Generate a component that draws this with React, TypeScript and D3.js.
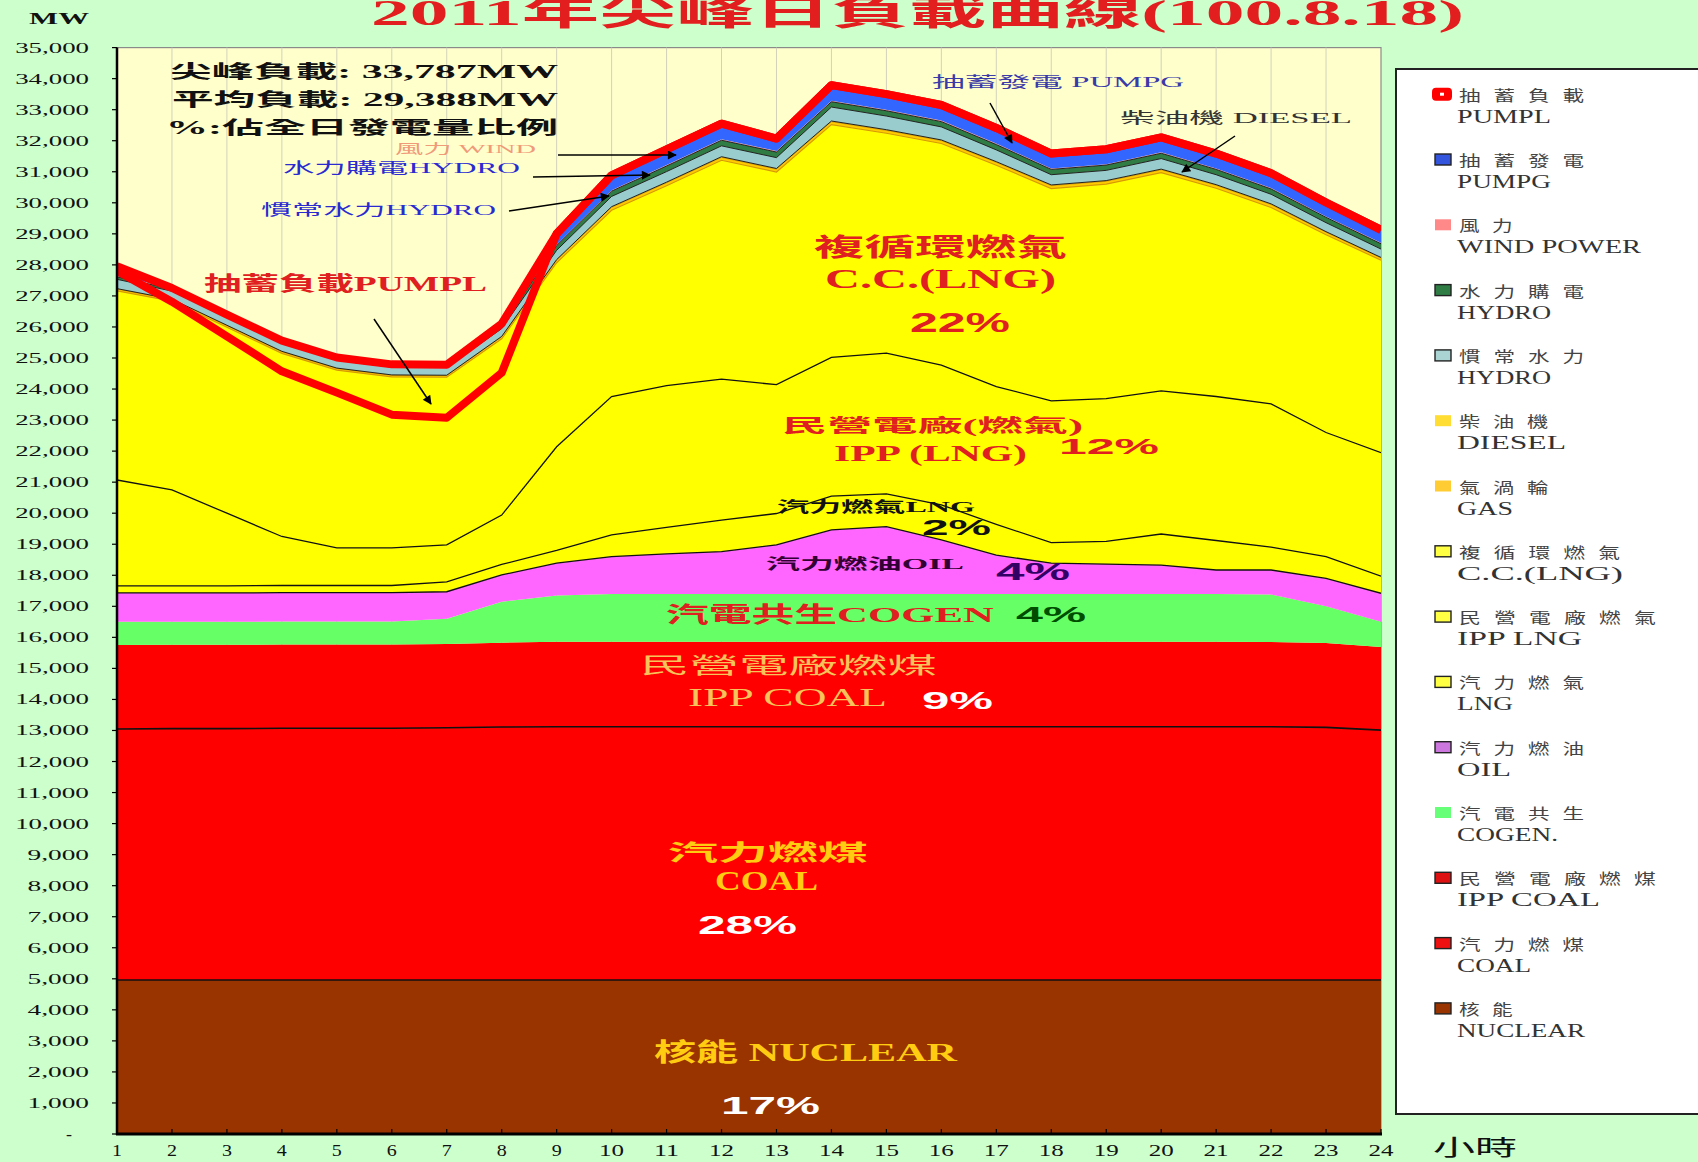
import React from 'react';
import * as d3 from 'd3';

// ---------- data (MW, hour 1..24) ----------
const HOURS = [1, 2, 3, 4, 5, 6, 7, 8, 9, 10, 11, 12, 13, 14, 15, 16, 17, 18, 19, 20, 21, 22, 23, 24];
const NUCLEAR = [4960, 4960, 4960, 4960, 4960, 4960, 4960, 4960, 4960, 4960, 4960, 4960, 4960, 4960, 4960, 4960, 4960, 4960, 4960, 4960, 4960, 4960, 4960, 4960];
const COAL = [8090, 8100, 8100, 8110, 8110, 8110, 8130, 8150, 8160, 8160, 8160, 8160, 8160, 8160, 8160, 8160, 8160, 8160, 8160, 8160, 8160, 8160, 8140, 8050];
const IPP_COAL = [2700, 2700, 2700, 2700, 2700, 2700, 2700, 2720, 2740, 2740, 2740, 2740, 2740, 2740, 2740, 2740, 2740, 2740, 2740, 2740, 2740, 2730, 2720, 2680];
const COGEN = [750, 740, 740, 740, 740, 740, 810, 1320, 1490, 1540, 1540, 1540, 1540, 1540, 1540, 1540, 1540, 1540, 1540, 1540, 1540, 1530, 1180, 810];
const OIL = [930, 930, 930, 930, 930, 930, 870, 860, 1040, 1200, 1290, 1360, 1580, 2060, 2170, 1740, 1250, 990, 960, 930, 770, 790, 900, 920];
const LNG = [230, 230, 230, 230, 230, 230, 320, 340, 410, 700, 850, 1020, 1010, 1090, 1050, 1130, 990, 660, 730, 1000, 950, 740, 700, 550];
const IPP_LNG = [3410, 3090, 2340, 1580, 1210, 1210, 1190, 1590, 3340, 4460, 4570, 4540, 4150, 4470, 4540, 4500, 4440, 4570, 4600, 4610, 4640, 4610, 4000, 3980];
const CC = [6090, 6080, 5990, 5900, 5730, 5510, 5400, 5680, 5930, 6000, 6440, 7050, 6850, 7500, 7080, 7140, 7130, 6840, 6910, 7030, 6710, 6330, 6370, 6200];
const GAS = [60, 50, 50, 50, 50, 50, 50, 60, 80, 90, 90, 90, 90, 90, 90, 90, 90, 90, 90, 90, 90, 90, 80, 70];
const DIESEL = [15, 15, 15, 15, 15, 15, 15, 15, 20, 25, 25, 25, 25, 25, 25, 25, 25, 25, 25, 25, 25, 25, 20, 20];
const HYDRO_C = [300, 260, 250, 250, 250, 250, 250, 250, 300, 330, 340, 350, 350, 450, 440, 420, 380, 330, 330, 340, 320, 310, 290, 270];
const HYDRO_P = [80, 60, 60, 60, 60, 60, 60, 80, 150, 170, 180, 180, 180, 170, 170, 170, 170, 170, 170, 170, 170, 170, 170, 170];
const WIND = [40, 40, 35, 35, 30, 30, 30, 30, 30, 30, 35, 35, 35, 35, 35, 35, 35, 30, 30, 30, 30, 30, 30, 30];
const PUMPG = [300, 0, 0, 0, 0, 0, 0, 50, 350, 480, 500, 500, 400, 500, 500, 500, 500, 480, 480, 480, 480, 480, 450, 420];
const PUMP_LOAD = [150, 440, 700, 990, 1130, 1620, 1710, 1580, 0, 0, 0, 0, 0, 0, 0, 0, 0, 0, 0, 0, 0, 0, 0, 0];

const Y_MAX = 35000;
const Y_STEP = 1000;

// ---------- styling ----------
const SERIF = "'Liberation Serif','Times New Roman','Noto Sans CJK TC',serif";
const CJK = "'Noto Sans CJK TC','Liberation Serif',serif";
const SANS = "'Liberation Sans',Arial,sans-serif";

const SERIES = [
  { key: 'nuclear', values: NUCLEAR, fill: '#993300', line: '#111', lw: 1.6 },
  { key: 'coal', values: COAL, fill: '#ff0000', line: '#111', lw: 1.6 },
  { key: 'ippCoal', values: IPP_COAL, fill: '#ff0000', line: null, lw: 0 },
  { key: 'cogen', values: COGEN, fill: '#66ff66', line: null, lw: 0 },
  { key: 'oil', values: OIL, fill: '#ff66ff', line: '#111', lw: 1.3 },
  { key: 'lng', values: LNG, fill: '#ffff00', line: '#111', lw: 1.3 },
  { key: 'ippLng', values: IPP_LNG, fill: '#ffff00', line: '#111', lw: 1.3 },
  { key: 'cc', values: CC, fill: '#ffff00', line: '#d89a00', lw: 1.2 },
  { key: 'gas', values: GAS, fill: '#ffcc00', line: '#e0a000', lw: 1 },
  { key: 'diesel', values: DIESEL, fill: '#ffcc00', line: '#222', lw: 1 },
  { key: 'hydroC', values: HYDRO_C, fill: '#99cccc', line: '#222', lw: 1 },
  { key: 'hydroP', values: HYDRO_P, fill: '#2f7d45', line: '#222', lw: 1 },
  { key: 'wind', values: WIND, fill: '#ff9999', line: null, lw: 0 },
  { key: 'pumpG', values: PUMPG, fill: '#3366ff', line: null, lw: 0 },
];

const LEGEND = [
  { zh: '抽蓄負載', en: 'PUMPL', color: '#ff0000', enW: 94, pump: true },
  { zh: '抽蓄發電', en: 'PUMPG', color: '#3355dd', enW: 94 },
  { zh: '風力', en: 'WIND POWER', color: '#ff8888', enW: 184, noBorder: true },
  { zh: '水力購電', en: 'HYDRO', color: '#2f7d45', enW: 94 },
  { zh: '慣常水力', en: 'HYDRO', color: '#aad4d4', enW: 94 },
  { zh: '柴油機', en: 'DIESEL', color: '#ffdd33', enW: 109, noBorder: true },
  { zh: '氣渦輪', en: 'GAS', color: '#ffcc33', enW: 56, noBorder: true },
  { zh: '複循環燃氣', en: 'C.C.(LNG)', color: '#ffff44', enW: 166 },
  { zh: '民營電廠燃氣', en: 'IPP  LNG', color: '#ffff44', enW: 125 },
  { zh: '汽力燃氣', en: 'LNG', color: '#ffff44', enW: 56 },
  { zh: '汽力燃油', en: 'OIL', color: '#cc77dd', enW: 54 },
  { zh: '汽電共生', en: 'COGEN.', color: '#66ff77', enW: 101, noBorder: true },
  { zh: '民營電廠燃煤', en: 'IPP  COAL', color: '#dd1111', enW: 143 },
  { zh: '汽力燃煤', en: 'COAL', color: '#ee1111', enW: 74 },
  { zh: '核能', en: 'NUCLEAR', color: '#993300', enW: 128 },
];

const NOTES = [
  { t: '尖峰負載:  33,787MW', x: 170, w: 388, y: 72, size: 18, fill: '#111', weight: 'bold' },
  { t: '平均負載:  29,388MW', x: 172, w: 386, y: 100, size: 18, fill: '#111', weight: 'bold' },
  { t: '%:佔全日發電量比例', x: 166, w: 392, y: 128, size: 18, fill: '#111', weight: 'bold' },
  { t: '風力 WIND', x: 395, w: 141, y: 148, size: 13, fill: '#f09a7a' },
  { t: '水力購電HYDRO', x: 283, w: 237, y: 168, size: 15, fill: '#2a2ad0' },
  { t: '慣常水力HYDRO', x: 261, w: 235, y: 210, size: 15, fill: '#2a2ad0' },
  { t: '抽蓄負載PUMPL', x: 204, w: 283, y: 284, size: 20, fill: '#e02020', weight: 'bold' },
  { t: '抽蓄發電  PUMPG', x: 932, w: 252, y: 82, size: 15, fill: '#3a3aa8' },
  { t: '柴油機  DIESEL', x: 1120, w: 232, y: 118, size: 15, fill: '#333' },
  { t: '複循環燃氣', x: 814, w: 253, y: 247, size: 25, fill: '#e02020', weight: 'bold' },
  { t: 'C.C.(LNG)', x: 825, w: 231, y: 278, size: 28, fill: '#e02020', weight: 'bold' },
  { t: '22%', x: 910, w: 100, y: 322, size: 28, fill: '#e02020', weight: 'bold', family: SANS },
  { t: '民營電廠(燃氣)', x: 782, w: 301, y: 426, size: 18, fill: '#e02020', weight: 'bold' },
  { t: 'IPP (LNG)', x: 834, w: 193, y: 453, size: 23, fill: '#e02020', weight: 'bold' },
  { t: '12%', x: 1059, w: 100, y: 446, size: 22, fill: '#e02020', weight: 'bold', family: SANS },
  { t: '汽力燃氣LNG', x: 777, w: 198, y: 507, size: 15, fill: '#111', weight: 'bold' },
  { t: '2%', x: 922, w: 69, y: 527, size: 22, fill: '#111', weight: 'bold', family: SANS },
  { t: '汽力燃油OIL', x: 766, w: 198, y: 564, size: 15, fill: '#330033', weight: 'bold' },
  { t: '4%', x: 996, w: 74, y: 571, size: 24, fill: '#330066', weight: 'bold', family: SANS },
  { t: '汽電共生COGEN', x: 666, w: 328, y: 614, size: 22, fill: '#e02020', weight: 'bold' },
  { t: '4%', x: 1016, w: 70, y: 614, size: 22, fill: '#004d00', weight: 'bold', family: SANS },
  { t: '民營電廠燃煤', x: 640, w: 297, y: 665, size: 22, fill: '#f7c35a' },
  { t: 'IPP  COAL', x: 688, w: 199, y: 697, size: 26, fill: '#f7c35a' },
  { t: '9%', x: 922, w: 71, y: 700, size: 24, fill: '#ffffff', weight: 'bold', family: SANS },
  { t: '汽力燃煤', x: 668, w: 200, y: 852, size: 22, fill: '#ffcc11', weight: 'bold' },
  { t: 'COAL', x: 715, w: 103, y: 880, size: 28, fill: '#ffcc11', weight: 'bold' },
  { t: '28%', x: 698, w: 99, y: 925, size: 25, fill: '#ffffff', weight: 'bold', family: SANS },
  { t: '核能  NUCLEAR', x: 654, w: 303, y: 1052, size: 25, fill: '#ffcc11', weight: 'bold' },
  { t: '17%', x: 721, w: 99, y: 1105, size: 24, fill: '#ffffff', weight: 'bold', family: SANS },
];

const ARROWS = [
  [558, 155, 676, 155],
  [533, 177, 650, 175],
  [509, 211, 609, 196],
  [374, 319, 431, 404],
  [990, 103, 1012, 143],
  [1235, 136, 1182, 172],
];

// ---------- geometry ----------
const W = 1698;
const H = 1162;
const PL = 117, PR = 1381, PT = 47.6, PB = 1134;

const x = d3.scaleLinear().domain([1, 24]).range([PL, PR]);
const y = d3.scaleLinear().domain([0, Y_MAX]).range([PB, PT]);

function Lbl({ t, x, y, w, size, fill, weight = 'normal', family = SERIF, ls = 0 }: any) {
  return (
    <text x={x} y={y} textLength={w} lengthAdjust="spacingAndGlyphs" fontSize={size} fill={fill}
      fontWeight={weight} fontFamily={family} dominantBaseline="central" letterSpacing={ls}>{t}</text>
  );
}

export default function App() {
  const rows = HOURS.map((h, i) => {
    const r: any = { hour: h };
    SERIES.forEach((s) => { r[s.key] = s.values[i]; });
    return r;
  });
  const stacked = d3.stack<any>().keys(SERIES.map((s) => s.key))(rows);
  const area = d3.area<any>().x((d) => x(d.data.hour)).y0((d) => y(d[0])).y1((d) => y(d[1]));
  const topLine = d3.line<any>().x((d) => x(d.data.hour)).y((d) => y(d[1]));
  const totals = stacked[stacked.length - 1].map((d) => d[1]);
  const line2 = d3.line<[number, number]>().x((d) => x(d[0])).y((d) => y(d[1]));
  const totalPts: [number, number][] = HOURS.map((h, i) => [h, totals[i]]);
  const netPts: [number, number][] = HOURS.map((h, i) => [h, totals[i] - PUMP_LOAD[i]]);
  const yTicks = d3.range(0, Y_MAX + 1, Y_STEP);
  const fmt = d3.format(',');

  return (
    <svg width={W} height={H} style={{ position: 'absolute', left: 0, top: 0, display: 'block' }}>
      <defs>
        <clipPath id="plotClip"><rect x={PL} y={PT} width={PR - PL} height={PB - PT} /></clipPath>
        <marker id="arr" viewBox="0 0 10 10" refX="9" refY="5" markerWidth="13" markerHeight="9"
          markerUnits="userSpaceOnUse" orient="auto">
          <path d="M0,0 L10,5 L0,10 z" fill="#000" />
        </marker>
      </defs>
      <rect x={0} y={0} width={W} height={H} fill="#ccffcc" />

      {/* title */}
      <text x={371} y={25} textLength={1093} lengthAdjust="spacingAndGlyphs" fontSize={35} fontWeight="bold"
        fill="#e31e1e" fontFamily={SERIF}>2011年尖峰日負載曲線(100.8.18)</text>
      <Lbl t="MW" x={29} y={18} w={60} size={17} fill="#111" weight="bold" />

      {/* plot background + grid */}
      <rect x={PL} y={PT} width={PR - PL} height={PB - PT} fill="#ffffcc" stroke="#8a8a8a" strokeWidth={1.2} />
      {HOURS.slice(1, -1).map((h) => (
        <line key={h} x1={x(h)} x2={x(h)} y1={PT} y2={PB} stroke="#d2d2bc" strokeWidth={1} />
      ))}

      <g clipPath="url(#plotClip)">
        {stacked.map((layer, i) => (
          <path key={layer.key} d={area(layer) || ''} fill={SERIES[i].fill} />
        ))}
        {stacked.map((layer, i) =>
          SERIES[i].line ? (
            <path key={'l' + layer.key} d={topLine(layer) || ''} fill="none" stroke={SERIES[i].line}
              strokeWidth={SERIES[i].lw} />
          ) : null
        )}
        <path d={line2(netPts) || ''} fill="none" stroke="#ff0000" strokeWidth={8} strokeLinejoin="round" />
        <path d={line2(totalPts) || ''} fill="none" stroke="#ff0000" strokeWidth={8} strokeLinejoin="round" />
      </g>

      {/* axes */}
      <line x1={PL} x2={PL} y1={PT} y2={PB + 1} stroke="#000" strokeWidth={2.5} />
      <line x1={PL - 1} x2={PR + 1} y1={PB} y2={PB} stroke="#000" strokeWidth={3} />
      {yTicks.map((v) => (
        <g key={v}>
          <line x1={PL - 5} x2={PL} y1={y(v)} y2={y(v)} stroke="#000" strokeWidth={1.2} />
          {v === 0 ? (
            <Lbl t="-" x={66} y={y(v)} w={6} size={16} fill="#111" />
          ) : (
            <Lbl t={fmt(v)} x={89 - fmt(v).length * 12.3} y={y(v)} w={fmt(v).length * 12.3} size={15} fill="#111" />
          )}
        </g>
      ))}
      {HOURS.map((h) => {
        const s = String(h);
        const w = s.length === 1 ? 10 : 25;
        return (
          <g key={h}>
            <line x1={x(h)} x2={x(h)} y1={PB} y2={PB - 5} stroke="#000" strokeWidth={1.2} />
            <Lbl t={s} x={x(h) - w / 2} y={1150} w={w} size={16} fill="#111" />
          </g>
        );
      })}
      <Lbl t="小時" x={1433} y={1145} w={84} size={22} fill="#111" family={CJK} />

      {/* annotations */}
      {ARROWS.map((a, i) => (
        <line key={i} x1={a[0]} y1={a[1]} x2={a[2]} y2={a[3]} stroke="#000" strokeWidth={1.5} markerEnd="url(#arr)" />
      ))}
      {NOTES.map((n, i) => (
        <Lbl key={i} {...n} />
      ))}

      {/* legend */}
      <rect x={1396} y={69} width={330} height={1045} fill="#ffffff" stroke="#222" strokeWidth={2} />
      {LEGEND.map((e, i) => {
        const cy = 94.2 + 65.3 * i;
        return (
          <g key={i}>
            {e.pump ? (
              <g>
                <rect x={1432} y={cy - 6.5} width={20} height={13} rx={4} fill={e.color} />
                <rect x={1440} y={cy - 1.5} width={4} height={3} fill="#fff" />
              </g>
            ) : (
              <rect x={1435} y={cy - 5.5} width={16} height={11} fill={e.color}
                stroke={e.noBorder ? 'none' : '#222'} strokeWidth={1.4} />
            )}
            <Lbl t={e.zh} x={1459} y={cy} w={36 * e.zh.length - 6} size={15} fill="#444" family={CJK} ls={9} />
            <Lbl t={e.en} x={1457} y={cy + 22.5} w={e.enW} size={18} fill="#333" />
          </g>
        );
      })}
    </svg>
  );
}
